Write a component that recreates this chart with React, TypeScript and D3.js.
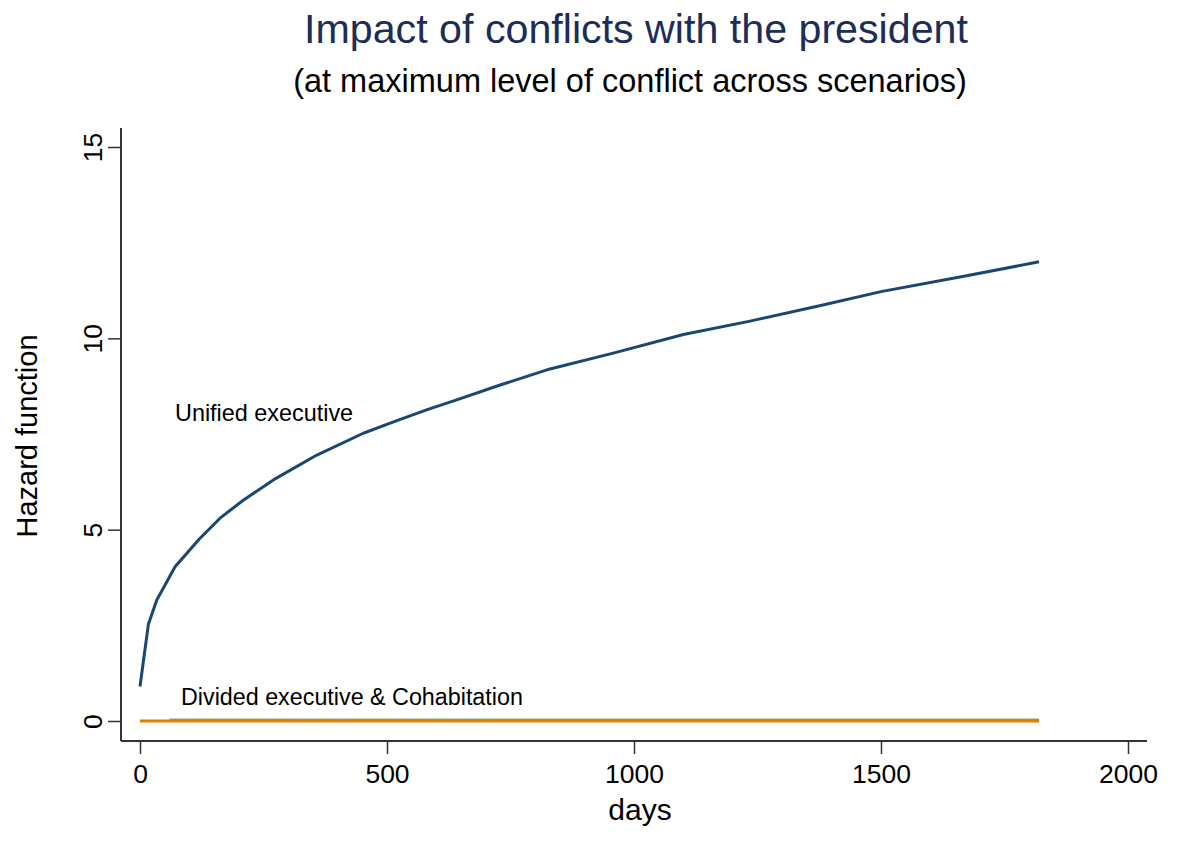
import { useEffect, useRef } from "react"
import * as d3 from "d3"

const W = 1178
const H = 857

const TITLE = "Impact of conflicts with the president"
const SUBTITLE = "(at maximum level of conflict across scenarios)"

const X_TICKS = [0, 500, 1000, 1500, 2000]
const Y_TICKS = [0, 5, 10, 15]

// unified executive hazard
const UNIFIED_DAYS = [0, 17, 34, 71, 121, 162, 209, 270, 358, 452, 520, 580, 641, 729, 830, 960, 1100, 1235, 1378, 1500, 1668, 1820]
const UNIFIED_HAZ = [0.9, 2.53, 3.16, 4.03, 4.77, 5.3, 5.77, 6.3, 6.95, 7.52, 7.85, 8.13, 8.39, 8.78, 9.2, 9.62, 10.1, 10.45, 10.86, 11.22, 11.62, 12.0]

// divided executive & cohabitation: hazards close to zero
const DIVIDED_DAYS = [60, 500, 1000, 1500, 1820]
const DIVIDED_HAZ = [0.03, 0.03, 0.03, 0.03, 0.03]
const COHAB_DAYS = [0, 500, 1000, 1500, 1820]
const COHAB_HAZ = [0.0, 0.0, 0.0, 0.0, 0.0]

const FONT = "'Liberation Sans', Arial, Helvetica, sans-serif"

const M = { left: 121, right: 1147, top: 128, bottom: 741 }

export default function App() {
  const svgRef = useRef<SVGSVGElement>(null)

  useEffect(() => {
    if (!svgRef.current) return
    const svg = d3.select(svgRef.current)
    svg.selectAll("*").remove()

    svg.append("rect").attr("width", W).attr("height", H).attr("fill", "#ffffff")

    const x = d3.scaleLinear().domain([0, 2000]).range([140, 1128])
    const y = d3.scaleLinear().domain([0, 15]).range([721, 147])

    // Axes
    const xAxis = svg
      .append("g")
      .attr("transform", `translate(0,${M.bottom})`)
      .call(d3.axisBottom(x).tickValues(X_TICKS).tickSize(13).tickPadding(10).tickFormat(d3.format("d")))
    xAxis.select(".domain").attr("d", `M${M.left},0H${M.right}`).attr("stroke", "#333").attr("stroke-width", 2)
    xAxis.selectAll(".tick line").attr("stroke", "#333").attr("stroke-width", 1.5)
    xAxis.selectAll(".tick text").attr("fill", "#000").attr("font-size", 26.5).attr("font-family", FONT)

    const yAxis = svg
      .append("g")
      .attr("transform", `translate(${M.left},0)`)
      .call(d3.axisLeft(y).tickValues(Y_TICKS).tickSize(13).tickFormat(d3.format("d")))
    yAxis.select(".domain").attr("d", `M0,${M.top}V${M.bottom}`).attr("stroke", "#333").attr("stroke-width", 2)
    yAxis.selectAll(".tick line").attr("stroke", "#333").attr("stroke-width", 1.5)
    yAxis
      .selectAll<SVGTextElement, number>(".tick text")
      .attr("fill", "#000")
      .attr("font-size", 26.5)
      .attr("font-family", FONT)
      .attr("x", null)
      .attr("dy", null)
      .attr("text-anchor", "middle")
      .attr("transform", "translate(-19,0) rotate(-90)")

    const draw = (days: number[], vals: number[], color: string, width: number) => {
      const pts: [number, number][] = days.map((d, i) => [x(d), y(vals[i])])
      svg
        .append("path")
        .attr("d", d3.line()(pts))
        .attr("fill", "none")
        .attr("stroke", color)
        .attr("stroke-width", width)
        .attr("stroke-linejoin", "round")
    }

    draw(DIVIDED_DAYS, DIVIDED_HAZ, "#8fa275", 2.5)
    draw(COHAB_DAYS, COHAB_HAZ, "#e37e00", 3)
    draw(UNIFIED_DAYS, UNIFIED_HAZ, "#1a476f", 3)

    // Labels
    svg
      .append("text")
      .attr("x", 175)
      .attr("y", 421)
      .attr("font-size", 23.4)
      .attr("font-family", FONT)
      .attr("fill", "#000")
      .text("Unified executive")
    svg
      .append("text")
      .attr("x", 181)
      .attr("y", 705)
      .attr("font-size", 23.3)
      .attr("font-family", FONT)
      .attr("fill", "#000")
      .text("Divided executive & Cohabitation")

    svg
      .append("text")
      .attr("x", 636)
      .attr("y", 43)
      .attr("text-anchor", "middle")
      .attr("font-size", 41.2)
      .attr("font-family", FONT)
      .attr("fill", "#1c2d58")
      .text(TITLE)
    svg
      .append("text")
      .attr("x", 630)
      .attr("y", 92)
      .attr("text-anchor", "middle")
      .attr("font-size", 32.5)
      .attr("font-family", FONT)
      .attr("fill", "#000")
      .text(SUBTITLE)

    svg
      .append("text")
      .attr("x", 640)
      .attr("y", 820)
      .attr("text-anchor", "middle")
      .attr("font-size", 30)
      .attr("font-family", FONT)
      .attr("fill", "#000")
      .text("days")
    svg
      .append("text")
      .attr("transform", "translate(37,436) rotate(-90)")
      .attr("text-anchor", "middle")
      .attr("font-size", 29)
      .attr("font-family", FONT)
      .attr("fill", "#000")
      .text("Hazard function")
  }, [])

  return (
    <svg
      ref={svgRef}
      width={W}
      height={H}
      style={{ position: "absolute", left: 0, top: 0, display: "block" }}
    />
  )
}
